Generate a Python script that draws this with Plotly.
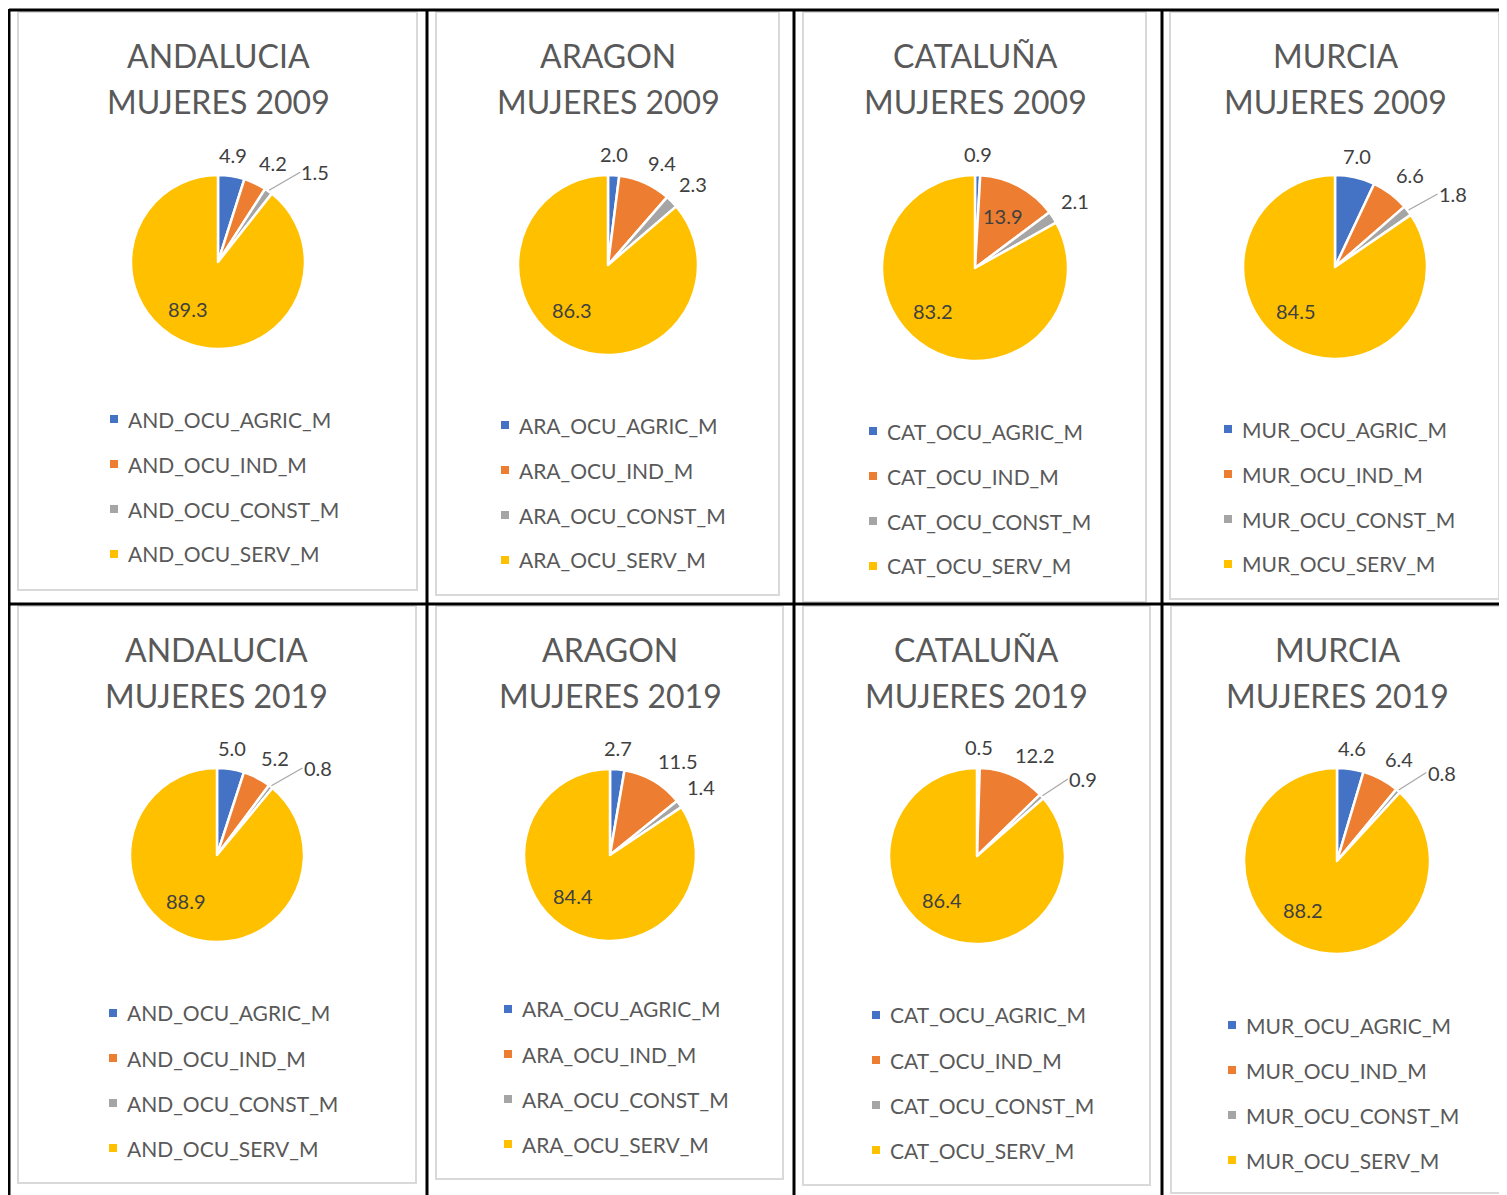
import math
import plotly.graph_objects as go

# porcentaje de ocupadas (mujeres) por sector
sectores = ["AGRIC", "IND", "CONST", "SERV"]
regiones = ["ANDALUCIA", "ARAGON", "CATALUÑA", "MURCIA"]
prefijos = ["AND", "ARA", "CAT", "MUR"]
anios = [2009, 2019]

and_2009 = [4.9, 4.2, 1.5, 89.3]
ara_2009 = [2.0, 9.4, 2.3, 86.3]
cat_2009 = [0.9, 13.9, 2.1, 83.2]
mur_2009 = [7.0, 6.6, 1.8, 84.5]
and_2019 = [5.0, 5.2, 0.8, 88.9]
ara_2019 = [2.7, 11.5, 1.4, 84.4]
cat_2019 = [0.5, 12.2, 0.9, 86.4]
mur_2019 = [4.6, 6.4, 0.8, 88.2]

valores = [
	[and_2009, ara_2009, cat_2009, mur_2009],
	[and_2019, ara_2019, cat_2019, mur_2019],
]

colores = ["#4472C4", "#ED7D31", "#A5A5A5", "#FFC000"]

# la pagina deja 8px de margen en el body
OFF = 8
W, H = 1507 - OFF, 1195 - OFF
FONT = "Lato"

# geometria de cada celda (pixeles de pantalla): centro del pie, radio, marco, leyenda
centros = [
	[(218, 262, 87), (608, 265, 90), (975, 268, 93), (1335, 267, 92)],
	[(217, 855, 87), (610, 855, 86), (977, 856, 88), (1337, 861, 93)],
]
marcos = [
	[(18, 12, 417, 590), (436, 12, 779, 595), (803, 12, 1146, 602), (1170, 12, 1499, 599)],
	[(18, 606, 416, 1183), (436, 606, 783, 1179), (803, 606, 1150, 1185), (1171, 606, 1504, 1193)],
]
leyendas = [
	[(114, 419), (505, 425), (873, 431), (1228, 429)],
	[(113, 1013), (508, 1009), (876, 1015), (1232, 1025)],
]
titulo_y = [(55, 101), (649, 695)]


def fx(x):
	return (x - OFF) / W


def fy(y):
	return 1 - (y - OFF) / H


def ancho_texto(t, size=20):
	return sum(0.26 * size if ch == "." else 0.53 * size for ch in t)


fig = go.Figure()
shapes = []
annotations = []

for fila in range(2):
	for col in range(4):
		cx, cy, r = centros[fila][col]
		vals = valores[fila][col]
		pref = prefijos[col]
		etiquetas = [f"{pref}_OCU_{s}_M" for s in sectores]

		# marco gris del grafico
		x0, y0, x1, y1 = marcos[fila][col]
		shapes.append(dict(type="rect", xref="paper", yref="paper", x0=fx(x0), x1=fx(x1), y0=fy(y1), y1=fy(y0),
			line=dict(color="#D9D9D9", width=2), fillcolor="white", layer="below"))

		fig.add_trace(
			go.Pie(
				labels=etiquetas,
				values=vals,
				sort=False,
				direction="clockwise",
				rotation=0,
				marker=dict(colors=colores, line=dict(color="white", width=2.5)),
				textinfo="none",
				hoverinfo="label+value",
				showlegend=False,
				domain=dict(x=[fx(cx - r), fx(cx + r)], y=[fy(cy + r), fy(cy - r)]),
			)
		)

		# titulo
		annotations.append(dict(x=fx(cx), y=fy(titulo_y[fila][0]), xref="paper", yref="paper", showarrow=False,
			text=regiones[col], font=dict(family=FONT, size=32, color="#595959"), xanchor="center", yanchor="middle"))
		annotations.append(dict(x=fx(cx), y=fy(titulo_y[fila][1]), xref="paper", yref="paper", showarrow=False,
			text=f"MUJERES {anios[fila]}", font=dict(family=FONT, size=32, color="#595959"), xanchor="center", yanchor="middle"))

		# etiquetas de datos
		total = sum(vals)
		acum = 0
		prev = None
		for i, v in enumerate(vals):
			ang = (acum + v / 2) / total * 360
			acum += v
			txt = f"{v:.1f}"
			w = ancho_texto(txt)
			if v > 13:
				if v > 50:
					ang += 14  # ajuste "best fit" de Excel
				theta = math.radians(ang)
				s, c = math.sin(theta), math.cos(theta)
				tx, ty = cx + 0.64 * r * s, cy - 0.64 * r * c
				annotations.append(dict(x=fx(tx), y=fy(ty), xref="paper", yref="paper", showarrow=False, text=txt,
					font=dict(family=FONT, size=20, color="#404040"), xanchor="center", yanchor="middle"))
				continue
			theta = math.radians(ang)
			s, c = math.sin(theta), math.cos(theta)
			px, py = cx + (r + 11) * s, cy - (r + 11) * c
			if abs(s) < 0.3:
				bx0 = px - w / 2
			elif s > 0:
				bx0 = px
			else:
				bx0 = px - w
			if c > 0.3:
				by0 = py - 20
			elif c < -0.3:
				by0 = py
			else:
				by0 = py - 10
			linea = False
			if prev is not None and bx0 < prev[1] and by0 < prev[3] + 5 and by0 + 20 > prev[2]:
				bx0 = prev[1] + 16
				linea = True
			prev = (bx0, bx0 + w, by0, by0 + 20)
			if linea:
				ex, ey = cx + (r + 1) * s, cy - (r + 1) * c
				shapes.append(dict(type="line", xref="paper", yref="paper", x0=fx(ex), y0=fy(ey),
					x1=fx(bx0 - 2), y1=fy(by0 + 10), line=dict(color="#A6A6A6", width=1.2)))
			annotations.append(dict(x=fx(bx0 + w / 2), y=fy(by0 + 10), xref="paper", yref="paper", showarrow=False,
				text=txt, font=dict(family=FONT, size=20, color="#404040"), xanchor="center", yanchor="middle"))

		# leyenda
		lx, ly = leyendas[fila][col]
		for i, lab in enumerate(etiquetas):
			yy = ly + 45 * i
			shapes.append(dict(type="rect", xref="paper", yref="paper", x0=fx(lx - 4), x1=fx(lx + 4),
				y0=fy(yy + 4), y1=fy(yy - 4), line=dict(width=0), fillcolor=colores[i]))
			annotations.append(dict(x=fx(lx + 12), y=fy(yy), xref="paper", yref="paper", showarrow=False, text=lab,
				font=dict(family=FONT, size=21, color="#595959"), xanchor="left", yanchor="middle"))

# lineas negras de la tabla
negro = dict(color="black", width=3)
shapes.append(dict(type="line", xref="paper", yref="paper", x0=fx(9), x1=1, y0=fy(10), y1=fy(10), line=negro))
shapes.append(dict(type="line", xref="paper", yref="paper", x0=fx(9), x1=1, y0=fy(604), y1=fy(604), line=negro))
for xv in [9, 427, 794, 1162]:
	shapes.append(dict(type="line", xref="paper", yref="paper", x0=fx(xv), x1=fx(xv), y0=fy(9), y1=0, line=negro))

fig.update_layout(
	width=W,
	height=H,
	margin=dict(l=0, r=0, t=0, b=0),
	paper_bgcolor="white",
	plot_bgcolor="white",
	shapes=shapes,
	annotations=annotations,
	showlegend=False,
)

fig.write_html("out.html")
